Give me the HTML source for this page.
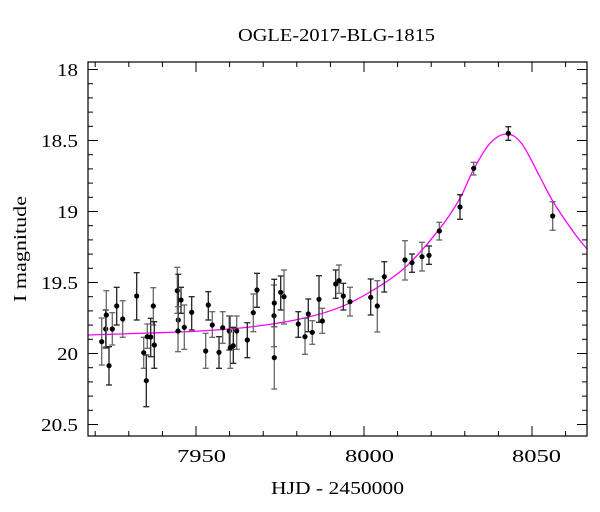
<!DOCTYPE html>
<html><head><meta charset="utf-8"><style>
html,body{margin:0;padding:0;background:#fff}
svg{display:block}
text{font-family:"Liberation Serif",serif;fill:#000}
</style></head><body>
<svg id="s" width="600" height="512" viewBox="0 0 600 512" xmlns="http://www.w3.org/2000/svg">
<text x="238" y="41" font-size="18" textLength="197" lengthAdjust="spacingAndGlyphs">OGLE-2017-BLG-1815</text>
<text x="271" y="494" font-size="18" textLength="133" lengthAdjust="spacingAndGlyphs">HJD - 2450000</text>
<text transform="translate(26,302) rotate(-90)" font-size="18" textLength="106" lengthAdjust="spacingAndGlyphs">I magnitude</text>
<g font-size="18">
<text x="57" y="76" textLength="21" lengthAdjust="spacingAndGlyphs">18</text>
<text x="41" y="147" textLength="37" lengthAdjust="spacingAndGlyphs">18.5</text>
<text x="57" y="218" textLength="21" lengthAdjust="spacingAndGlyphs">19</text>
<text x="41" y="289" textLength="37" lengthAdjust="spacingAndGlyphs">19.5</text>
<text x="57" y="360" textLength="21" lengthAdjust="spacingAndGlyphs">20</text>
<text x="41" y="431" textLength="37" lengthAdjust="spacingAndGlyphs">20.5</text>
</g>
<g font-size="18">
<text x="177" y="462" textLength="49" lengthAdjust="spacingAndGlyphs">7950</text>
<text x="345" y="462" textLength="49" lengthAdjust="spacingAndGlyphs">8000</text>
<text x="512" y="462" textLength="49" lengthAdjust="spacingAndGlyphs">8050</text>
</g>
<g id="ticks" stroke="#000" stroke-width="1"></g>
<path id="curve" fill="none" stroke="#ff00ff" stroke-width="1.3" d=""/>
<g id="pts"></g>
<rect x="88" y="62" width="499" height="374" fill="none" stroke="#000" stroke-width="1.2"/>
</svg>
<script>
var NS="http://www.w3.org/2000/svg";
function el(p,n,a){var e=document.createElementNS(NS,n);for(var k in a)e.setAttribute(k,a[k]);p.appendChild(e);return e;}
var t=document.getElementById("ticks");
for(var i=0;i<=25;i++){var m=18+i*0.1;var y=69.5+(m-18)*142;if(y<62||y>436)continue;var L=(i%5==0)?10:5;
el(t,"line",{x1:88,y1:y,x2:88+L,y2:y});el(t,"line",{x1:587,y1:y,x2:587-L,y2:y});}
for(var d=7920;d<=8060;d+=10){var x=196+(d-7950)*3.36;var L=(d%50==0)?10:5;
el(t,"line",{x1:x,y1:436,x2:x,y2:436-L});el(t,"line",{x1:x,y1:62,x2:x,y2:62+L});}
var C=[[88,335],[150,333],[200,331],[250,327],[300,319],[340,307.3],[373.3,290],[406.7,266],[440,228.3],[460,198.3],[473.3,170],[490,143.3],[507,134],[522,144],[540,177],[553.3,202],[573.3,231.7],[587,249]];
var d="M"+C[0][0]+","+C[0][1];
for(var i=0;i<C.length-1;i++){var p0=C[Math.max(i-1,0)],p1=C[i],p2=C[i+1],p3=C[Math.min(i+2,C.length-1)];
d+=" C"+(p1[0]+(p2[0]-p0[0])/6)+","+(p1[1]+(p2[1]-p0[1])/6)+" "+(p2[0]-(p3[0]-p1[0])/6)+","+(p2[1]-(p3[1]-p1[1])/6)+" "+p2[0]+","+p2[1];}
document.getElementById("curve").setAttribute("d",d);
var P=[[101.7,341.7,318,365],[105.7,329,310,348],[106.3,315,290.7,346.7],[109,365.7,346.7,385],[112.3,329,312.7,345],[116.7,306,287.3,325],[122.7,319,300.7,337.3],[136.7,296,272.7,320],[143.7,352.7,337.3,368.3],[146.3,380.7,355,406.7],[147.3,336.7,324,348.3],[150.7,337,318.3,356.7],[153.3,306,287.7,325],[154.3,345,321.7,368.3],[177.3,290.7,267.3,313.3],[178.3,320,274.3,331.7],[178,331,306.7,351.7],[181,300,287.3,313.3],[184.3,327.3,305,349.3],[191.7,312.3,296.7,330],[205.7,351,333.3,368.3],[208.3,305,291.7,320],[212.3,325,311.7,337.3],[219,352.3,336.7,368.3],[222.7,327.7,311.7,343.3],[229.3,331,316,350],[230.3,347.7,316,368.3],[233.3,345.7,327.3,363.3],[236.7,331,316,349.3],[247.3,340,322.7,357.7],[253.3,312.7,294,331.7],[257,290,273.3,307.3],[274,315.7,285,346.7],[274.3,303,279.3,326.7],[274.3,357.7,326.7,389],[280.7,292.3,276,310],[284,296.7,270,324],[298.3,324,311.7,337.3],[305,336.7,318.3,354.3],[308.3,314,299,331.7],[312.3,332.3,320.7,344.3],[319,299.3,275.7,322.3],[322.3,321,308.3,333.3],[335.7,284,270,298.3],[339,280.7,265,293.3],[343.3,296,283.3,310],[350,301.7,287.3,316],[370.7,297.3,279,315],[377.3,306,280.7,332],[384.3,276.7,261.7,292],[405,260,240.7,280],[412,262.7,254,272.3],[422,256.7,242.3,271],[429,255.3,246,264.3],[439.3,231,222.3,240],[460,207,194.7,219.3],[473.7,168.3,162.3,175],[508.3,133.3,126.7,140.3],[552.7,216,201.7,230.3]];
var g=document.getElementById("pts");
P.forEach(function(p,i){var c=(i%2)?"#222":"#666";
el(g,"line",{x1:p[0],y1:p[2],x2:p[0],y2:p[3],stroke:c,"stroke-width":1.3});
el(g,"line",{x1:p[0]-3,y1:p[2],x2:p[0]+3,y2:p[2],stroke:c,"stroke-width":1.3});
el(g,"line",{x1:p[0]-3,y1:p[3],x2:p[0]+3,y2:p[3],stroke:c,"stroke-width":1.3});
el(g,"circle",{cx:p[0],cy:p[1],r:2.6,fill:"#000"});});
</script>
</body></html>
